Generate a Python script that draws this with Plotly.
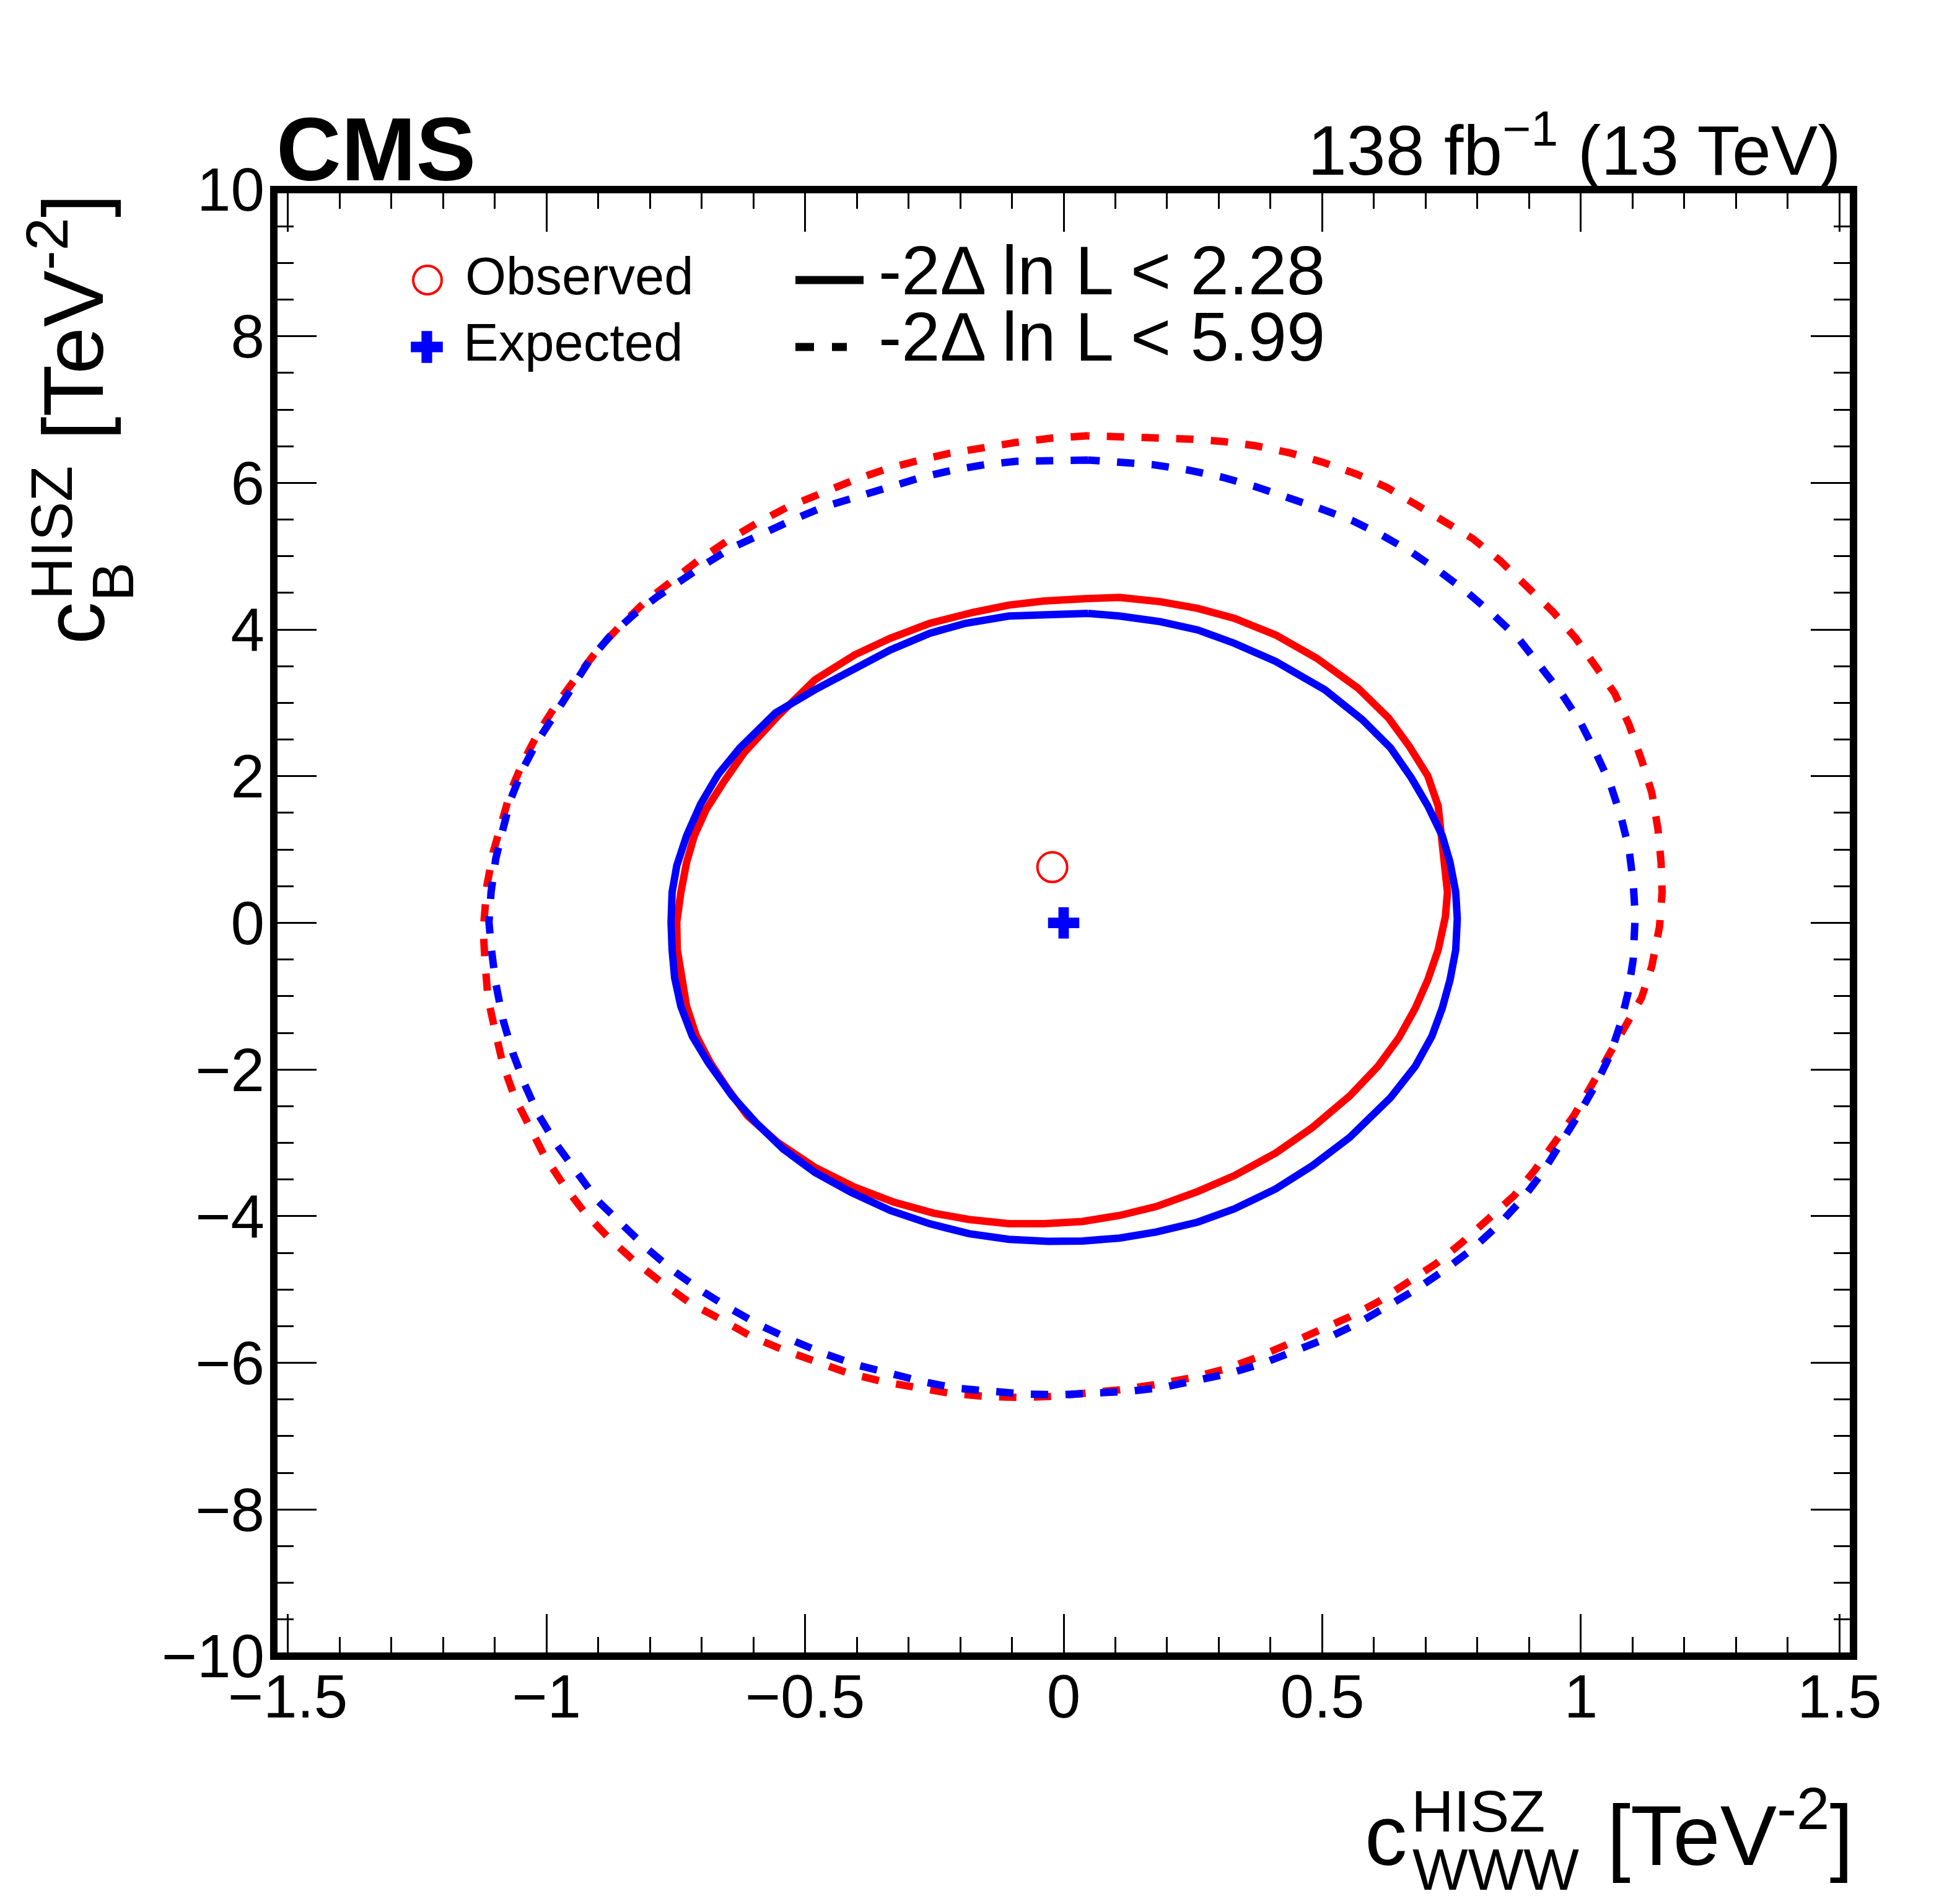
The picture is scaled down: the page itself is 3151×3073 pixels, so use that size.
import plotly.graph_objects as go

# 68% (-2dlnL < 2.28) and 95% (-2dlnL < 5.99) contours
obs_68_x = [0.047, -0.038, -0.106, -0.175, -0.259, -0.335, -0.404, -0.481, -0.553, -0.618, -0.656, -0.691,
            -0.714, -0.729, -0.740, -0.748, -0.747, -0.740, -0.729, -0.710, -0.683, -0.649, -0.611, -0.553,
            -0.481, -0.404, -0.328, -0.251, -0.183, -0.106, -0.038, 0.036, 0.108, 0.179, 0.259, 0.330,
            0.410, 0.481, 0.553, 0.608, 0.648, 0.680, 0.704, 0.724, 0.738, 0.742, 0.736, 0.728, 0.724,
            0.704, 0.668, 0.628, 0.569, 0.489, 0.410, 0.330, 0.259, 0.187, 0.108, 0.047]
obs_68_y = [4.424, 4.389, 4.334, 4.235, 4.085, 3.882, 3.655, 3.315, 2.817, 2.319, 1.935, 1.549,
            1.188, 0.825, 0.418, 0.010, -0.368, -0.730, -1.138, -1.545, -1.908, -2.270, -2.632, -2.994,
            -3.334, -3.605, -3.809, -3.959, -4.045, -4.103, -4.103, -4.072, -3.990, -3.868, -3.664, -3.447,
            -3.139, -2.790, -2.360, -1.953, -1.568, -1.161, -0.776, -0.368, 0.085, 0.418, 0.825, 1.188, 1.595,
            2.003, 2.410, 2.795, 3.202, 3.610, 3.926, 4.153, 4.289, 4.380, 4.438, 4.424]

exp_68_x = [0.047, -0.038, -0.106, -0.190, -0.259, -0.335, -0.404, -0.481, -0.557, -0.626, -0.668, -0.702,
            -0.729, -0.748, -0.757, -0.759, -0.757, -0.752, -0.740, -0.718, -0.687, -0.641, -0.595, -0.542,
            -0.481, -0.411, -0.335, -0.259, -0.183, -0.106, -0.030, 0.036, 0.108, 0.179, 0.259, 0.330,
            0.410, 0.481, 0.553, 0.632, 0.680, 0.712, 0.732, 0.747, 0.758, 0.761, 0.758, 0.747, 0.732,
            0.704, 0.672, 0.632, 0.577, 0.505, 0.410, 0.330, 0.259, 0.187, 0.108, 0.047]
exp_68_y = [4.221, 4.212, 4.185, 4.085, 3.949, 3.723, 3.474, 3.179, 2.863, 2.387, 2.025, 1.618,
            1.188, 0.780, 0.418, 0.010, -0.368, -0.753, -1.138, -1.545, -1.908, -2.360, -2.723, -3.085,
            -3.402, -3.674, -3.922, -4.103, -4.239, -4.316, -4.343, -4.339, -4.298, -4.216, -4.081, -3.900,
            -3.628, -3.311, -2.926, -2.383, -1.953, -1.545, -1.161, -0.776, -0.368, 0.056, 0.418, 0.825, 1.188,
            1.595, 1.980, 2.387, 2.773, 3.179, 3.565, 3.813, 3.995, 4.108, 4.185, 4.221]

obs_95_x = [0.047, -0.022, -0.091, -0.152, -0.221, -0.282, -0.343, -0.408, -0.473, -0.534, -0.595, -0.649,
            -0.706, -0.756, -0.809, -0.859, -0.901, -0.943, -0.981, -1.016, -1.046, -1.069, -1.088, -1.103,
            -1.115, -1.121, -1.122, -1.119, -1.113, -1.099, -1.084, -1.061, -1.034, -1.004, -0.966, -0.924,
            -0.878, -0.828, -0.779, -0.721, -0.660, -0.603, -0.542, -0.481, -0.416, -0.351, -0.286, -0.221,
            -0.152, -0.083, -0.022, 0.044, 0.108, 0.175, 0.243, 0.307, 0.370, 0.430, 0.489, 0.553, 0.608,
            0.668, 0.720, 0.771, 0.823, 0.871, 0.910, 0.950, 0.986, 1.018, 1.057, 1.089, 1.117, 1.137,
            1.145, 1.152, 1.157, 1.155, 1.149, 1.137, 1.117, 1.093, 1.065, 1.029, 0.990, 0.946, 0.894,
            0.843, 0.791, 0.740, 0.684, 0.624, 0.565, 0.501, 0.438, 0.370, 0.307, 0.243, 0.175, 0.108, 0.047]
obs_95_y = [6.643, 6.611, 6.553, 6.494, 6.403, 6.304, 6.190, 6.032, 5.851, 5.670, 5.444, 5.217,
            4.945, 4.674, 4.380, 4.040, 3.723, 3.338, 2.975, 2.591, 2.183, 1.799, 1.369, 0.961,
            0.508, 0.010, -0.096, -0.504, -1.025, -1.478, -1.930, -2.383, -2.768, -3.175, -3.583, -3.968,
            -4.307, -4.624, -4.896, -5.190, -5.417, -5.643, -5.824, -5.982, -6.141, -6.254, -6.345, -6.413,
            -6.458, -6.472, -6.458, -6.422, -6.368, -6.299, -6.209, -6.095, -5.937, -5.757, -5.575, -5.371, -5.167,
            -4.896, -4.647, -4.353, -4.036, -3.719, -3.379, -2.994, -2.632, -2.247, -1.772, -1.410, -1.025, -0.594,
            -0.277, -0.050, 0.418, 0.825, 1.278, 1.776, 2.228, 2.704, 3.134, 3.496, 3.882, 4.243, 4.606,
            4.945, 5.240, 5.466, 5.693, 5.942, 6.123, 6.281, 6.408, 6.508, 6.566, 6.598, 6.621, 6.643, 6.643]

exp_95_x = [0.047, -0.022, -0.091, -0.152, -0.213, -0.274, -0.335, -0.404, -0.465, -0.526, -0.588, -0.645,
            -0.691, -0.740, -0.786, -0.832, -0.878, -0.916, -0.954, -0.989, -1.019, -1.046, -1.069, -1.084,
            -1.098, -1.107, -1.111, -1.107, -1.098, -1.084, -1.065, -1.042, -1.016, -0.981, -0.943, -0.901,
            -0.855, -0.805, -0.756, -0.702, -0.645, -0.588, -0.526, -0.465, -0.400, -0.335, -0.274, -0.209,
            -0.144, -0.076, -0.007, 0.060, 0.124, 0.191, 0.259, 0.322, 0.386, 0.449, 0.509, 0.569, 0.628,
            0.684, 0.740, 0.791, 0.843, 0.887, 0.926, 0.962, 0.994, 1.029, 1.057, 1.077, 1.091, 1.101,
            1.105, 1.105, 1.101, 1.093, 1.077, 1.057, 1.029, 0.998, 0.962, 0.922, 0.879, 0.831, 0.779,
            0.728, 0.672, 0.616, 0.557, 0.497, 0.434, 0.370, 0.307, 0.239, 0.172, 0.100, 0.047]
exp_95_y = [6.312, 6.312, 6.295, 6.249, 6.177, 6.077, 5.942, 5.806, 5.670, 5.489, 5.285, 5.104,
            4.900, 4.674, 4.447, 4.199, 3.904, 3.587, 3.179, 2.817, 2.456, 2.093, 1.686, 1.278,
            0.871, 0.418, 0.010, -0.323, -0.821, -1.319, -1.772, -2.202, -2.609, -3.017, -3.402, -3.787,
            -4.103, -4.443, -4.737, -5.009, -5.258, -5.484, -5.688, -5.869, -6.028, -6.155, -6.254, -6.345,
            -6.390, -6.426, -6.435, -6.420, -6.390, -6.336, -6.245, -6.141, -6.005, -5.824, -5.665, -5.461, -5.213,
            -4.986, -4.715, -4.443, -4.103, -3.764, -3.402, -3.017, -2.632, -2.202, -1.795, -1.364, -0.957, -0.504,
            -0.142, 0.101, 0.554, 1.006, 1.459, 1.889, 2.319, 2.749, 3.134, 3.496, 3.882, 4.199, 4.516,
            4.787, 5.058, 5.285, 5.489, 5.648, 5.806, 5.951, 6.077, 6.177, 6.249, 6.295, 6.312]

# best-fit points
obs_best = (-0.022, 0.76)
exp_best = (0.0, 0.0)

legend_points = ["Observed", "Expected"]
legend_lines = ["-2\u0394 ln L < 2.28", "-2\u0394 ln L < 5.99"]

RED = "#ff0000"
BLUE = "#0000ff"
FONT = "Liberation Sans"

W, H = 3151, 3073
L, R, T, B = 442, 2992, 306, 2673  # frame in page pixels


def px(X):
    return (X - L) / (R - L)


def py(Y):
    return (B - Y) / (B - T)


fig = go.Figure()

fig.add_trace(go.Scatter(x=obs_95_x, y=obs_95_y, mode="lines",
                         line=dict(color=RED, width=12, dash="28px,28px")))
fig.add_trace(go.Scatter(x=exp_95_x, y=exp_95_y, mode="lines",
                         line=dict(color=BLUE, width=12, dash="28px,28px")))
fig.add_trace(go.Scatter(x=obs_68_x, y=obs_68_y, mode="lines",
                         line=dict(color=RED, width=12)))
fig.add_trace(go.Scatter(x=exp_68_x, y=exp_68_y, mode="lines",
                         line=dict(color=BLUE, width=12)))
fig.add_trace(go.Scatter(x=[obs_best[0]], y=[obs_best[1]], mode="markers",
                         marker=dict(symbol="circle-open", size=48, color=RED, line=dict(width=4, color=RED))))
fig.add_trace(go.Scatter(x=[exp_best[0]], y=[exp_best[1]], mode="markers",
                         marker=dict(symbol="cross", size=42, color=BLUE, line=dict(width=0))))

# legend samples on an overlay axis spanning the frame
fig.add_trace(go.Scatter(x=[px(690)], y=[py(452)], mode="markers", xaxis="x2", yaxis="y2",
                         marker=dict(symbol="circle-open", size=46, color=RED, line=dict(width=4, color=RED))))
fig.add_trace(go.Scatter(x=[px(689)], y=[py(560)], mode="markers", xaxis="x2", yaxis="y2",
                         marker=dict(symbol="cross", size=43, color=BLUE, line=dict(width=0))))
fig.add_trace(go.Scatter(x=[px(1284), px(1394)], y=[py(452), py(452)], mode="lines", xaxis="x2", yaxis="y2",
                         line=dict(color="black", width=13)))
fig.add_trace(go.Scatter(x=[px(1284), px(1367)], y=[py(560), py(560)], mode="lines", xaxis="x2", yaxis="y2",
                         line=dict(color="black", width=13, dash="30px,29px")))

ann = []


def text(s, X, Y, size, xa="left", ya="bottom", angle=0):
    ann.append(dict(text=s, x=px(X), y=py(Y), xref="paper", yref="paper", xanchor=xa, yanchor=ya,
                    showarrow=False, textangle=angle, font=dict(family=FONT, size=size, color="black")))


text("<b>CMS</b>", 444, 324, 145)
text("138 fb<sup>\u22121</sup> (13 TeV)", 2974, 308, 113, xa="right")
text(legend_points[0], 749, 495, 85)
text(legend_points[1], 746, 602, 85)
text(legend_lines[0], 1416, 501, 112)
text(legend_lines[1], 1416, 608, 112)

# x title
text("c", 2201, 3041, 137)
text("HISZ", 2276, 2978, 95)
text("WWW", 2278, 3072, 95)
text("[TeV<sup>-2</sup>]", 2993, 3041, 137, xa="right")

# y title (rotated)
text("c", 199, 1042, 137, xa="right", angle=-90)
text("HISZ", 138, 970, 95, xa="right", angle=-90)
text("B", 237, 972, 95, xa="right", angle=-90)
text("[TeV<sup>-2</sup>]", 198, 712, 137, xa="right", angle=-90)

tickfont = dict(family=FONT, size=98, color="black")
fig.update_layout(
    width=W, height=H,
    margin=dict(l=L, r=W - R, t=T, b=H - B),
    paper_bgcolor="white", plot_bgcolor="white",
    showlegend=False,
    annotations=ann,
    xaxis=dict(range=[-1.527, 1.527], tick0=0, dtick=0.5, ticks="inside", ticklen=68, tickwidth=3,
               tickcolor="black", mirror="ticks", showline=False, showgrid=False, zeroline=False,
               tickfont=tickfont,
               minor=dict(dtick=0.1, ticks="inside", ticklen=31, tickwidth=3, tickcolor="black", showgrid=False)),
    yaxis=dict(range=[-10, 10], tick0=0, dtick=2, ticks="inside", ticklen=69, tickwidth=3,
               tickcolor="black", mirror="ticks", showline=False, showgrid=False, zeroline=False,
               tickfont=tickfont, ticklabelstandoff=14,
               minor=dict(dtick=0.5, ticks="inside", ticklen=32, tickwidth=3, tickcolor="black", showgrid=False)),
    xaxis2=dict(overlaying="x", range=[0, 1], visible=False, anchor="y2"),
    yaxis2=dict(overlaying="y", range=[0, 1], visible=False, anchor="x2"),
    shapes=[dict(type="rect", xref="paper", yref="paper", x0=0, x1=1, y0=0, y1=1,
                 line=dict(color="black", width=12), layer="above")],
)

fig.write_html("out.html", config={"displayModeBar": False},
               post_script="document.body.style.margin='0px';")
